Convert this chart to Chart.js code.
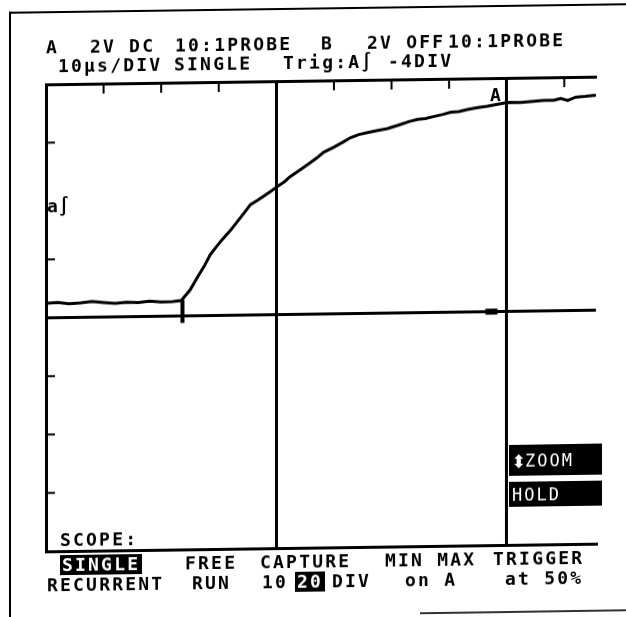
<!DOCTYPE html>
<html>
<head>
<meta charset="utf-8">
<script src="https://cdn.jsdelivr.net/npm/chart.js@4/dist/chart.umd.min.js"></script>
<style>
  body { margin: 0; background: #fff; }
  #page { position: relative; width: 626px; height: 617px; overflow: hidden; background: #fff; }
  /* the photographed screen is slightly sheared: right side sits higher */
  #scope { position: absolute; left: 0; top: 0; width: 626px; height: 640px;
    transform: skewY(-0.8deg); transform-origin: 0 0; }
  #scope canvas { position: absolute; left: 0; top: 0; }
  .lcd {
    position: absolute; white-space: pre; color: #000;
    font-family: 'DejaVu Sans Mono', monospace; font-weight: bold;
    font-size: 18px; line-height: 18px; letter-spacing: 2.2px;
    transform: translateY(-50%);
  }
  .inv { background: #000; color: #fff; padding: 1px 2px 1px 2px; }
  .box { position: absolute; background: #000; color: #fff; left: 509px; width: 93px; }
  .box span { position: absolute; top: 50%; transform: translateY(-50%);
    font-family: 'DejaVu Sans Mono', monospace; font-size: 17px; letter-spacing: 2px; white-space: pre; }
  .rule { position: absolute; background: #000; }
</style>
</head>
<body>
<div id="page">
<div id="scope">
  <canvas id="chart" width="626" height="617"></canvas>

  <div class="rule" style="left:9px;top:12px;width:2px;height:628px"></div>
  <div class="rule" style="left:9px;top:12px;width:617px;height:2px"></div>
  <div class="rule" style="left:420px;top:618px;width:206px;height:2px;background:#333"></div>

  <div class="lcd" style="left:46px;top:48px">A</div>
  <div class="lcd" style="left:90px;top:48px">2V DC</div>
  <div class="lcd" style="left:175px;top:48px">10:1PROBE</div>
  <div class="lcd" style="left:321px;top:48px">B</div>
  <div class="lcd" style="left:367px;top:48px">2V OFF</div>
  <div class="lcd" style="left:448px;top:48px">10:1PROBE</div>

  <div class="lcd" style="left:58px;top:67px">10µs/DIV</div>
  <div class="lcd" style="left:174px;top:67px">SINGLE</div>
  <div class="lcd" style="left:283px;top:67px">Trig:A∫</div>
  <div class="lcd" style="left:388px;top:67px">-4DIV</div>

  <div class="lcd" style="left:490px;top:102px">A</div>
  <div class="lcd" style="left:47px;top:207px;letter-spacing:1px">a∫</div>

  <div class="box" style="top:452px;height:31px">
    <span style="left:2px;font-family:'DejaVu Sans';font-size:18px;letter-spacing:0">⬍</span>
    <span style="left:16px">ZOOM</span>
  </div>
  <div class="box" style="top:489px;height:25px"><span style="left:3px">HOLD</span></div>

  <div class="lcd" style="left:60px;top:541px">SCOPE:</div>

  <div class="lcd inv" style="left:60px;top:566px">SINGLE</div>
  <div class="lcd" style="left:185px;top:566px">FREE</div>
  <div class="lcd" style="left:260px;top:566px">CAPTURE</div>
  <div class="lcd" style="left:385px;top:566px">MIN MAX</div>
  <div class="lcd" style="left:493px;top:566px">TRIGGER</div>

  <div class="lcd" style="left:47px;top:586px">RECURRENT</div>
  <div class="lcd" style="left:192px;top:586px">RUN</div>
  <div class="lcd" style="left:262px;top:586px">10</div>
  <div class="lcd inv" style="left:295px;top:586px">20</div>
  <div class="lcd" style="left:332px;top:586px">DIV</div>
  <div class="lcd" style="left:405px;top:586px">on A</div>
  <div class="lcd" style="left:505px;top:586px">at 50%</div>
</div>
</div>

<script>
// channel A trace, 10 us/div, 2 V/div
const timeUs = [-40, -38, -36, -34, -32, -30, -28, -26, -24, -22, -20, -18, -16.5,
  -15, -13.7, -12.5, -11.5, -10.4, -9.4, -8, -6.8, -5.6, -4.5,
  -3.3, -2.3, -1, 0.2, 1.4, 2.4, 4.2, 5.9, 7.1, 8.2,
  9.9, 11.5, 12.9, 14.3, 15.8, 17.6, 19.3, 21.6, 23, 24.5,
  25.9, 27.3, 28.9, 30.3, 31.7, 33.2, 35, 36.7, 38.4, 40.2,
  42.4, 44.7, 46.4, 48.2, 49.4, 50.6, 52, 53.7, 55.5];
const chanA = [0.5, 0.52, 0.47, 0.5, 0.54, 0.5, 0.46, 0.5, 0.48, 0.52, 0.49, 0.5, 0.53,
  0.88, 1.32, 1.70, 2.08, 2.36, 2.60, 2.90, 3.20, 3.50, 3.78,
  3.92, 4.05, 4.22, 4.39, 4.55, 4.72, 4.96, 5.19, 5.36, 5.54,
  5.70, 5.87, 6.03, 6.13, 6.19, 6.26, 6.32, 6.46, 6.55, 6.62,
  6.65, 6.71, 6.78, 6.85, 6.87, 6.94, 7.00, 7.04, 7.10, 7.16,
  7.15, 7.19, 7.21, 7.21, 7.27, 7.20, 7.31, 7.33, 7.37];

const cursorLinesUs = [0, 40];     // full height lines (trigger point, cursor)
const triggerUs = -16.3;
const triggerLevel = [0.55, -0.24];
const cursorMarkUs = [36.3, 38.4];

// tick marks inside the graticule, like on the scope LCD
const graticule = {
  id: 'graticule',
  afterDatasetsDraw(chart) {
    const { ctx, chartArea, scales: { x, y } } = chart;
    ctx.save();
    ctx.strokeStyle = '#000';
    ctx.lineWidth = 2;
    for (let t = -30; t <= 50; t += 10) {
      if (cursorLinesUs.includes(t)) continue;
      const px = x.getPixelForValue(t);
      ctx.beginPath();
      ctx.moveTo(px, chartArea.top);
      ctx.lineTo(px, chartArea.top + 10);
      ctx.stroke();
    }
    for (let v = -6; v <= 6; v += 2) {
      if (v === 0 || v === 4) continue;
      const py = y.getPixelForValue(v);
      ctx.beginPath();
      ctx.moveTo(chartArea.left, py);
      ctx.lineTo(chartArea.left + 9, py);
      ctx.stroke();
    }
    // trigger position mark
    ctx.lineWidth = 4;
    ctx.beginPath();
    ctx.moveTo(x.getPixelForValue(triggerUs), y.getPixelForValue(triggerLevel[0]));
    ctx.lineTo(x.getPixelForValue(triggerUs), y.getPixelForValue(triggerLevel[1]));
    ctx.stroke();
    // cursor marker on the zero line
    ctx.lineWidth = 6;
    ctx.beginPath();
    ctx.moveTo(x.getPixelForValue(cursorMarkUs[0]), y.getPixelForValue(0));
    ctx.lineTo(x.getPixelForValue(cursorMarkUs[1]), y.getPixelForValue(0));
    ctx.stroke();
    ctx.restore();
  }
};

new Chart(document.getElementById('chart'), {
  type: 'line',
  data: {
    datasets: [{
      label: 'A',
      data: timeUs.map((t, i) => ({ x: t, y: chanA[i] })),
      borderColor: '#000',
      borderWidth: 3,
      pointRadius: 0,
      tension: 0,
      fill: false
    }]
  },
  options: {
    responsive: false,
    animation: false,
    devicePixelRatio: 1,
    layout: { padding: { left: 46, top: 85, right: 30, bottom: 65 } },
    plugins: { legend: { display: false }, tooltip: { enabled: false } },
    scales: {
      x: {
        type: 'linear',
        min: -40,
        max: 55.5,
        ticks: { display: false, stepSize: 10 },
        grid: {
          drawTicks: false,
          lineWidth: 3,
          color: ctx => cursorLinesUs.includes(ctx.tick.value) ? '#000' : 'rgba(0,0,0,0)'
        },
        border: { display: true, color: '#000', width: 3 }
      },
      xTop: {
        type: 'linear',
        position: 'top',
        min: -40,
        max: 55.5,
        ticks: { display: false },
        grid: { display: false, drawTicks: false },
        border: { display: true, color: '#000', width: 3 }
      },
      y: {
        min: -8,
        max: 8,
        ticks: { display: false, stepSize: 2 },
        grid: {
          drawTicks: false,
          lineWidth: 3,
          color: ctx => ctx.tick.value === 0 ? '#000' : 'rgba(0,0,0,0)'
        },
        border: { display: true, color: '#000', width: 3 }
      }
    }
  },
  plugins: [graticule]
});
</script>
</body>
</html>
